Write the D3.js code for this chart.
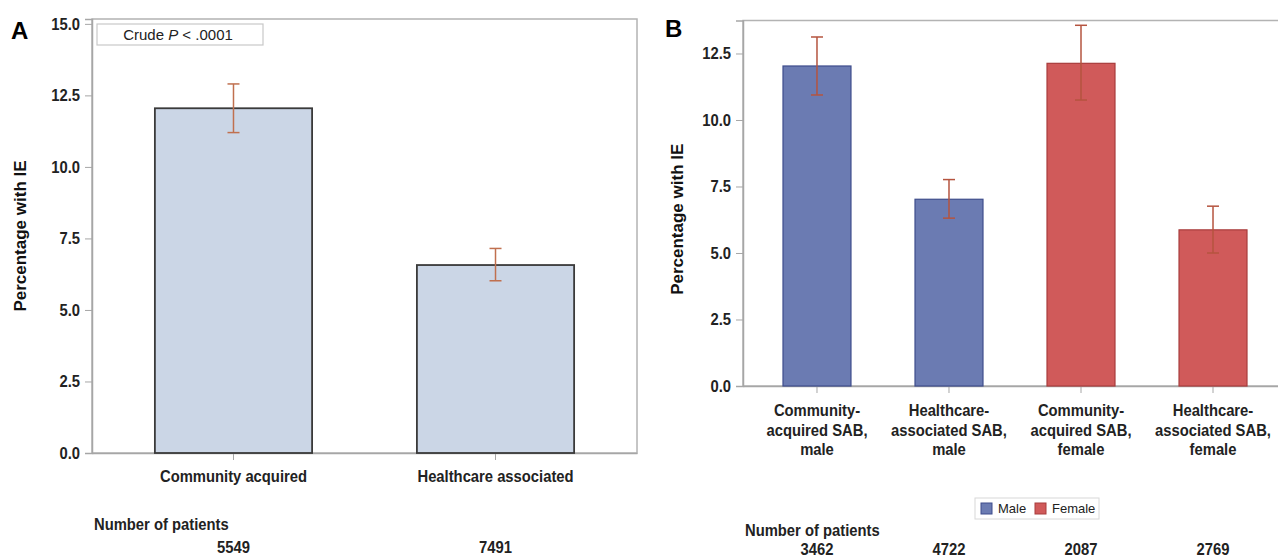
<!DOCTYPE html>
<html>
<head>
<meta charset="utf-8">
<script src="https://cdn.jsdelivr.net/npm/d3@7"></script>
<style>
  body { margin: 0; background: #fff; }
  svg { display: block; }
  .narrow { font-family: "Liberation Sans", Arial, sans-serif; font-weight: bold; fill: #222; }
  .axis path, .axis line { stroke: #a6a6a6; }
</style>
</head>
<body>
<svg id="chart" width="1278" height="558"></svg>
<script>
// Panel A: overall
const catsA = ["Community acquired", "Healthcare associated"];
const pctA = [12.05, 6.57];
const lowA = [11.2, 6.02];
const highA = [12.9, 7.15];
const patientsA = [5549, 7491];
const ticksA = [0, 2.5, 5, 7.5, 10, 12.5, 15];

// Panel B: by sex
const catsB = [
  "Community-|acquired SAB,|male",
  "Healthcare-|associated SAB,|male",
  "Community-|acquired SAB,|female",
  "Healthcare-|associated SAB,|female"
];
const sexB = ["Male", "Male", "Female", "Female"];
const pctB = [12.03, 7.02, 12.13, 5.87];
const lowB = [10.94, 6.31, 10.75, 5.0];
const highB = [13.12, 7.76, 13.56, 6.76];
const patientsB = [3462, 4722, 2087, 2769];
const ticksB = [0, 2.5, 5, 7.5, 10, 12.5];

const sexes = ["Male", "Female"];
const sexFill = d3.scaleOrdinal().domain(sexes).range(["#6b7bb2", "#d05a5a"]);
const sexStroke = d3.scaleOrdinal().domain(sexes).range(["#3e4d8c", "#a83c3c"]);

const squeeze = 0.87; // the original uses a condensed bold face

const svg = d3.select("#chart");

// condensed text: scale horizontally around its anchor point
function narrowText(parent, x, y) {
  return parent.append("g")
    .attr("transform", `translate(${x},${y}) scale(${squeeze},1)`)
    .append("text")
    .attr("class", "narrow")
    .style("font-size", "17px");
}

function drawPanel(opt) {
  const g = svg.append("g");
  const x = d3.scaleBand()
    .domain(opt.cats)
    .range([opt.left, opt.right])
    .paddingInner(opt.padIn)
    .paddingOuter(opt.padOut);
  const y = d3.scaleLinear()
    .domain([0, opt.yMax])
    .range([opt.bottom, opt.top]);
  const cx = d => x(d) + x.bandwidth() / 2;

  // frame
  g.append("rect")
    .attr("x", opt.left).attr("y", opt.top)
    .attr("width", opt.right - opt.left).attr("height", opt.bottom - opt.top)
    .attr("fill", "none").attr("stroke", "#b3b3b3").attr("stroke-width", 1.5);

  // y axis
  const yAxis = g.append("g")
    .attr("class", "axis")
    .attr("transform", `translate(${opt.left},0)`)
    .call(d3.axisLeft(y).tickValues(opt.ticks).tickFormat(d3.format(".1f")).tickSize(7).tickPadding(5));
  yAxis.select(".domain").attr("stroke-width", 1.5);
  yAxis.selectAll("text")
    .attr("class", "narrow")
    .style("font-size", "17px")
    .each(function () {
      const t = d3.select(this);
      const tx = +t.attr("x");
      t.attr("x", 0).attr("transform", `translate(${tx},0) scale(${squeeze},1)`);
    });

  // x axis
  const xAxis = g.append("g")
    .attr("class", "axis")
    .attr("transform", `translate(0,${opt.bottom})`)
    .call(d3.axisBottom(x).tickSize(7).tickSizeOuter(0).tickFormat(""));
  xAxis.select(".domain").attr("stroke-width", 1.5);

  // bars
  g.selectAll("rect.bar")
    .data(opt.cats)
    .enter()
    .append("rect")
    .attr("class", "bar")
    .attr("x", d => x(d))
    .attr("y", (d, i) => y(opt.values[i]))
    .attr("width", x.bandwidth())
    .attr("height", (d, i) => y(0) - y(opt.values[i]))
    .attr("fill", (d, i) => opt.fill(i))
    .attr("stroke", (d, i) => opt.stroke(i))
    .attr("stroke-width", opt.barStroke);

  // error bars
  const cap = opt.cap;
  const err = g.selectAll("g.err")
    .data(opt.cats)
    .enter()
    .append("g")
    .attr("class", "err")
    .attr("stroke", opt.errColor)
    .attr("stroke-width", 1.5);
  err.append("line")
    .attr("x1", cx).attr("x2", cx)
    .attr("y1", (d, i) => y(opt.low[i])).attr("y2", (d, i) => y(opt.high[i]));
  err.append("line")
    .attr("x1", d => cx(d) - cap).attr("x2", d => cx(d) + cap)
    .attr("y1", (d, i) => y(opt.low[i])).attr("y2", (d, i) => y(opt.low[i]));
  err.append("line")
    .attr("x1", d => cx(d) - cap).attr("x2", d => cx(d) + cap)
    .attr("y1", (d, i) => y(opt.high[i])).attr("y2", (d, i) => y(opt.high[i]));

  // category labels (may be split over lines)
  opt.cats.forEach(d => {
    const t = narrowText(g, cx(d), opt.bottom + opt.labelDy).attr("text-anchor", "middle");
    d.split("|").forEach((line, k) => {
      t.append("tspan")
        .attr("x", 0)
        .attr("dy", k === 0 ? 0 : "1.16em")
        .text(line);
    });
  });

  // y axis title
  g.append("text")
    .attr("transform", `translate(${opt.titleX},${(opt.top + opt.bottom) / 2 + opt.titleShift}) rotate(-90)`)
    .attr("text-anchor", "middle")
    .style("font-family", "Liberation Sans, Arial, sans-serif")
    .style("font-weight", "bold")
    .style("font-size", "17px")
    .attr("fill", "#111")
    .text("Percentage with IE");

  // panel letter
  g.append("text")
    .attr("x", opt.letterX).attr("y", opt.letterY)
    .style("font-family", "Liberation Sans, Arial, sans-serif")
    .style("font-weight", "bold")
    .style("font-size", "24px")
    .attr("fill", "#000")
    .text(opt.letter);

  // number of patients
  narrowText(g, opt.npX, opt.npY).text("Number of patients");
  opt.cats.forEach((d, i) => {
    narrowText(g, cx(d), opt.npY + opt.npGap)
      .attr("text-anchor", "middle")
      .text(opt.patients[i]);
  });

  return { g, x, y };
}

// Panel A
const panelA = drawPanel({
  cats: catsA, values: pctA, low: lowA, high: highA, patients: patientsA, ticks: ticksA,
  left: 92, right: 637, top: 19, bottom: 453, yMax: 15.17,
  padIn: 0.40, padOut: 0.24,
  fill: () => "#cbd6e6", stroke: () => "#3a3a3a", barStroke: 1.8,
  errColor: "#c0704f", cap: 6,
  labelDy: 29, titleX: 26, titleShift: 0,
  letter: "A", letterX: 11, letterY: 39,
  npX: 94, npY: 530, npGap: 23
});

// crude p-value box
panelA.g.append("rect")
  .attr("x", 97).attr("y", 24).attr("width", 166).attr("height", 21)
  .attr("fill", "#fff").attr("stroke", "#c8c8c8").attr("stroke-width", 1.2);
const pText = panelA.g.append("text")
  .attr("x", 178).attr("y", 40)
  .attr("text-anchor", "middle")
  .style("font-family", "Liberation Sans, Arial, sans-serif")
  .style("font-size", "15px")
  .attr("fill", "#222");
pText.append("tspan").text("Crude ");
pText.append("tspan").style("font-style", "italic").text("P");
pText.append("tspan").text(" < .0001");

// Panel B
const panelB = drawPanel({
  cats: catsB, values: pctB, low: lowB, high: highB, patients: patientsB, ticks: ticksB,
  left: 743, right: 1287, top: 20.5, bottom: 386, yMax: 13.74,
  padIn: 0.485, padOut: 0.303,
  fill: i => sexFill(sexB[i]), stroke: i => sexStroke(sexB[i]), barStroke: 1.2,
  errColor: "#b5543f", cap: 6,
  labelDy: 30, titleX: 683, titleShift: 16,
  letter: "B", letterX: 665, letterY: 37,
  npX: 745, npY: 536, npGap: 19
});

// legend
const legend = panelB.g.append("g").attr("transform", "translate(975,498)");
legend.append("rect")
  .attr("width", 124).attr("height", 21)
  .attr("fill", "#fff").attr("stroke", "#d8d8d8").attr("stroke-width", 1);
const legItems = legend.selectAll("g.item")
  .data(sexes)
  .enter()
  .append("g")
  .attr("class", "item")
  .attr("transform", (d, i) => `translate(${[6, 60][i]},5)`);
legItems.append("rect")
  .attr("width", 11).attr("height", 11)
  .attr("fill", d => sexFill(d))
  .attr("stroke", d => sexStroke(d)).attr("stroke-width", 1);
legItems.append("text")
  .attr("x", 17).attr("y", 10)
  .style("font-family", "Liberation Sans, Arial, sans-serif")
  .style("font-size", "13px")
  .attr("fill", "#222")
  .text(d => d);
</script>
</body>
</html>
